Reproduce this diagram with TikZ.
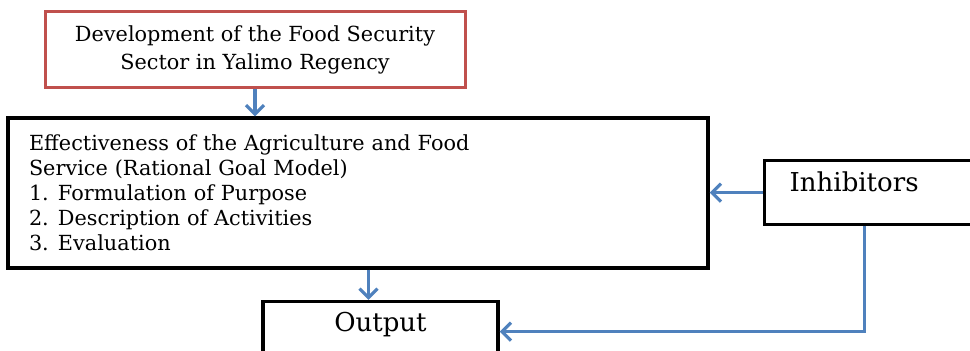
\documentclass[tikz,border=0pt]{standalone}
\usepackage{fontspec}
\setmainfont{DejaVu Serif}
\usepackage{tikz}
\usetikzlibrary{arrows.meta, positioning, calc}
\definecolor{sectorred}{RGB}{192, 80, 77}
\definecolor{flowblue}{RGB}{79, 129, 189}

\begin{document}
\begin{tikzpicture}[x=0.5pt, y=-0.5pt,
    box/.style={draw=black, line width=1.7pt, fill=white, inner ysep=3pt},
    flow/.style={draw=flowblue, line width=1.6pt, -{Straight Barb[length=4.5pt, width=9pt]}},
    font=\fontsize{10.4}{12.5}\selectfont]
    \clip (0, 0) rectangle (970, 351);

    % Sector box
    \node[box, draw=sectorred, line width=1.5pt, minimum width=210pt, minimum height=38pt, align=center,
          font=\fontsize{10.4}{14}\selectfont] (sector) at (255, 50)
        {Development of the Food Security\\Sector in Yalimo Regency};

    % Effectiveness box
    \node[box, minimum width=350pt, minimum height=75pt, inner xsep=10.5pt, text width=329pt, align=left] (effect) at (358, 193)
        {Effectiveness of the Agriculture and Food\\
         Service (Rational Goal Model)\\
         \makebox[14.5pt][l]{1.}Formulation of Purpose\\
         \makebox[14.5pt][l]{2.}Description of Activities\\
         \makebox[14.5pt][l]{3.}Evaluation};

    % Inhibitors box
    \node[box, anchor=north west, minimum height=32pt, inner xsep=12.5pt, text width=95pt, align=left,
          font=\fontsize{13}{15}\selectfont, text height=12.5pt, text depth=13.5pt] (inhib) at (763, 159) {Inhibitors};

    % Output box
    \node[box, anchor=north, minimum width=117.5pt, minimum height=40pt,
          font=\fontsize{13}{15}\selectfont, text height=12pt, text depth=22pt] (outp) at (380.5, 300) {Output};

    % Connectors
    \draw[flow] (sector.south) -- (sector.south |- effect.north);
    \draw[flow] ([xshift=-6pt]outp.north |- effect.south) -- ([xshift=-6pt]outp.north);
    \draw[flow] (inhib.west) -- (inhib.west -| effect.east);
    \draw[flow] ([xshift=-10pt]inhib.south) |- ([yshift=5pt]outp.east);
\end{tikzpicture}
\end{document}
